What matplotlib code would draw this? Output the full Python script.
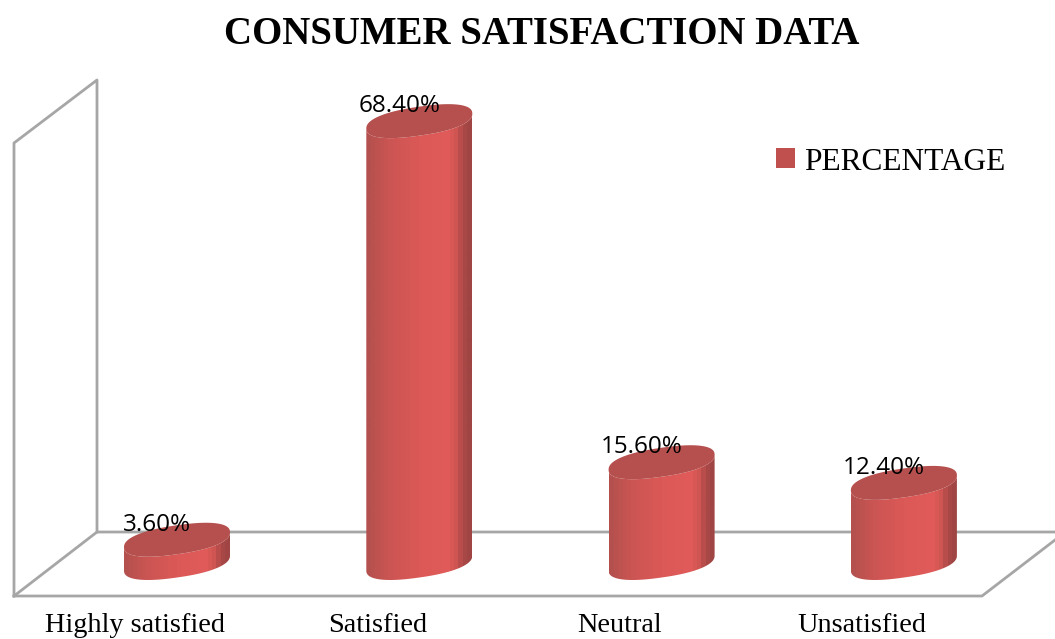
import matplotlib
matplotlib.use('Agg')
import matplotlib.pyplot as plt
from matplotlib.colors import LinearSegmentedColormap
from matplotlib.patches import Patch, Polygon
import numpy as np

categories = ["Highly satisfied", "Satisfied", "Neutral", "Unsatisfied"]
percentages = [3.6, 68.4, 15.6, 12.4]
value_labels = ["3.60%", "68.40%", "15.60%", "12.40%"]
series_name = "PERCENTAGE"

W, H = 1055, 639
X_UNIT, Y_UNIT = 242.3, 6.46  # pixels per category / per percent
X0_PX, Y0_PX = 177.0, 563.0   # where category 0, value 0 sits
HALF_W = 53 / X_UNIT
ELL_B = 14.5 / Y_UNIT
ELL_S = 7.5 / Y_UNIT
ROUND = 0.85  # a bit fatter than a true ellipse

GRID = "#A6A6A6"
TOP_COLOR = "#B5504E"
side_cmap = LinearSegmentedColormap.from_list(
    "side",
    [(0.0, "#B4504E"), (0.2, "#CB5552"), (0.5, "#DB5957"), (0.78, "#E05B59"),
     (0.88, "#CE5552"), (0.93, "#AE4A48"), (1.0, "#A04543")],
    N=24,
)


def rim(t):
    c, s = np.cos(t), np.sin(t)
    c = np.sign(c) * np.abs(c) ** ROUND
    s = np.sign(s) * np.abs(s) ** ROUND
    return HALF_W * c, ELL_B * s + ELL_S * c


fig = plt.figure(figsize=(W / 100, H / 100), dpi=100, facecolor="white")

# wall and floor of the 3d box, in pixels
back = fig.add_axes([0, 0, 1, 1])
back.set_xlim(0, W)
back.set_ylim(H, 0)
back.axis("off")
back.plot([14, 14, 97, 97], [596, 143, 80, 532], color=GRID, lw=2)
back.plot([14, 97, W], [596, 532, 532], color=GRID, lw=2)
back.plot([14, 982, W], [596, 596, 540], color=GRID, lw=2)

ax = fig.add_axes([0, 0, 1, 1])
ax.patch.set_alpha(0)
ax.axis("off")

t = np.linspace(0, 2 * np.pi, 361)
for i, (value, label) in enumerate(zip(percentages, value_labels)):
    dx, dy = rim(t[t >= np.pi])
    xb = i + dx
    body = Polygon(
        np.column_stack([np.r_[xb, xb[::-1]],
                         np.r_[dy, dy[::-1] + value]]),
        closed=True, transform=ax.transData, fc="none", ec="none",
    )
    ax.add_patch(body)
    img = ax.imshow(
        np.linspace(0, 1, 106).reshape(1, -1), cmap=side_cmap, aspect="auto",
        extent=(i - HALF_W, i + HALF_W, -5, value + 5), zorder=2,
    )
    img.set_clip_path(body)

    dx, dy = rim(t)
    ax.fill(i + dx, value + dy, color=TOP_COLOR, lw=0, zorder=3)

    ax.annotate(label, (i, value), xytext=(-20, 15), textcoords="offset pixels",
                ha="center", va="center", fontsize=17.5, family="Open Sans",
                color="black", zorder=5)

for i, name in enumerate(categories):
    ax.annotate(name, (i, 0), xytext=(-42, -62), textcoords="offset pixels",
                ha="center", va="center", fontsize=20.3, family="Liberation Serif",
                color="black")

ax.set_xlim(-X0_PX / X_UNIT, (W - X0_PX) / X_UNIT)
ax.set_ylim((Y0_PX - H) / Y_UNIT, Y0_PX / Y_UNIT)

fig.text(542 / W, 1 - 35 / H, "CONSUMER SATISFACTION DATA", ha="center", va="center",
         fontsize=28, fontweight="bold", family="Liberation Serif", color="black")

handle = Patch(facecolor="#C0504D", edgecolor="none", label=series_name)
ax.legend(handles=[handle], loc="center left", bbox_to_anchor=(751 / W, 1 - 162 / H),
          frameon=False, handlelength=0.6, handleheight=0.6, handletextpad=0.29,
          borderpad=0.3, prop={"family": "Liberation Serif", "size": 22.6})

fig.savefig("out.png", dpi=100)
plt.close(fig)
